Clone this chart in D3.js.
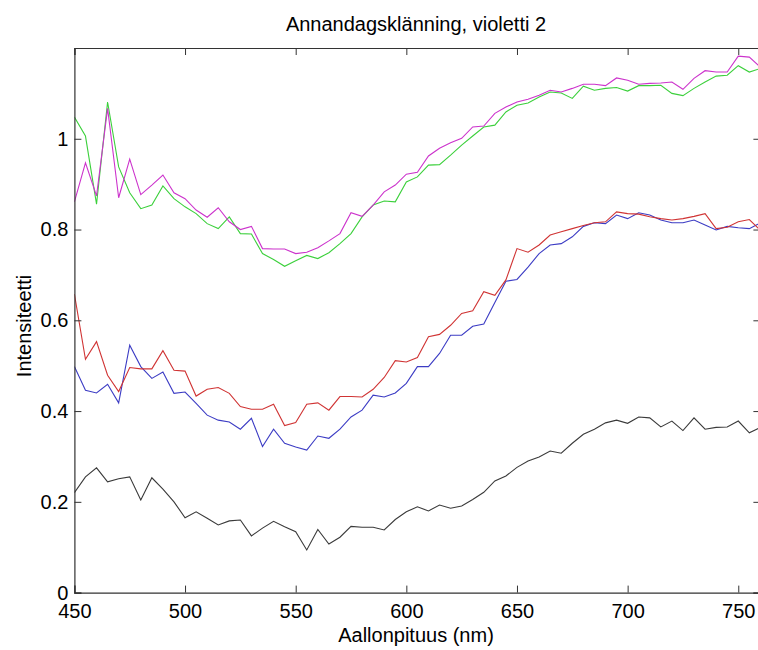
<!DOCTYPE html>
<html>
<head>
<meta charset="utf-8">
<script src="https://cdn.jsdelivr.net/npm/d3@7"></script>
<style>
  html, body { margin: 0; padding: 0; background: #fff; }
  svg { display: block; }
  text { font-family: "Liberation Sans", Arial, sans-serif; fill: #000; }
</style>
</head>
<body>
<svg id="chart" width="758" height="650"></svg>
<script>
const wavelengths = [450,455,460,465,470,475,480,485,490,495,500,505,510,515,520,525,530,535,540,545,
  550,555,560,565,570,575,580,585,590,595,600,605,610,615,620,625,630,635,640,645,650,655,
  660,665,670,675,680,685,690,695,700,705,710,715,720,725,730,735,740,745,750,755,760];

const blackSeries = [0.220,0.255,0.275,0.244,0.251,0.255,0.204,0.253,0.228,0.200,0.165,0.178,0.164,0.149,0.158,0.160,0.125,0.142,0.157,0.145,
  0.134,0.094,0.139,0.107,0.122,0.146,0.144,0.144,0.138,0.161,0.178,0.189,0.180,0.193,0.186,0.191,0.205,0.221,0.246,0.257,0.276,0.290,
  0.299,0.312,0.307,0.329,0.349,0.360,0.374,0.380,0.373,0.387,0.385,0.365,0.378,0.357,0.385,0.360,0.364,0.365,0.378,0.352,0.364];

const blueSeries = [0.498,0.446,0.440,0.459,0.418,0.545,0.498,0.472,0.486,0.439,0.442,0.417,0.391,0.380,0.376,0.360,0.384,0.322,0.360,0.329,
  0.321,0.314,0.345,0.340,0.360,0.387,0.402,0.435,0.431,0.440,0.461,0.498,0.498,0.527,0.567,0.567,0.587,0.592,0.639,0.686,0.690,0.717,
  0.747,0.766,0.769,0.784,0.807,0.815,0.813,0.832,0.824,0.837,0.832,0.821,0.815,0.815,0.821,0.810,0.799,0.807,0.804,0.802,0.815];

const redSeries = [0.658,0.514,0.553,0.479,0.443,0.496,0.493,0.493,0.533,0.490,0.488,0.433,0.448,0.452,0.439,0.410,0.404,0.404,0.415,0.368,
  0.375,0.415,0.418,0.402,0.432,0.432,0.431,0.448,0.474,0.511,0.508,0.518,0.564,0.569,0.589,0.615,0.621,0.663,0.655,0.689,0.758,0.750,
  0.766,0.788,0.795,0.802,0.809,0.815,0.817,0.839,0.835,0.834,0.828,0.824,0.821,0.824,0.829,0.835,0.802,0.805,0.817,0.822,0.798];

const greenSeries = [1.048,1.006,0.856,1.081,0.938,0.881,0.846,0.854,0.896,0.868,0.850,0.835,0.813,0.802,0.828,0.791,0.790,0.747,0.734,0.719,
  0.731,0.743,0.736,0.749,0.769,0.791,0.828,0.854,0.863,0.861,0.905,0.916,0.942,0.943,0.964,0.986,1.006,1.026,1.030,1.059,1.074,1.079,
  1.092,1.103,1.101,1.089,1.116,1.107,1.111,1.113,1.105,1.117,1.117,1.118,1.100,1.095,1.111,1.125,1.138,1.140,1.161,1.147,1.155];

const magentaSeries = [0.861,0.947,0.874,1.067,0.870,0.955,0.877,0.898,0.920,0.881,0.868,0.843,0.827,0.848,0.817,0.800,0.807,0.758,0.757,0.757,
  0.747,0.750,0.760,0.775,0.791,0.837,0.829,0.854,0.883,0.898,0.922,0.926,0.962,0.979,0.991,1.001,1.026,1.028,1.056,1.070,1.081,1.087,
  1.096,1.107,1.103,1.111,1.120,1.120,1.117,1.134,1.129,1.120,1.122,1.123,1.125,1.109,1.133,1.150,1.147,1.147,1.182,1.180,1.158];

const xTicks = [450,500,550,600,650,700,750];
const yTicks = [0,0.2,0.4,0.6,0.8,1];

const titleText = "Annandagsklänning, violetti 2";
const xLabel = "Aallonpituus (nm)";
const yLabel = "Intensiteetti";

const seriesList = [
  {name: "black", values: blackSeries, color: "#3a3a3a"},
  {name: "blue", values: blueSeries, color: "#3c3cc4"},
  {name: "red", values: redSeries, color: "#d03434"},
  {name: "green", values: greenSeries, color: "#3cd03c"},
  {name: "magenta", values: magentaSeries, color: "#cc33cc"}
];

const L = 74.4, R = 760.4, T = 48, B = 592.6;
const svg = d3.select("#chart");
const x = d3.scaleLinear().domain([450, 760]).range([L, R]);
const y = d3.scaleLinear().domain([0, 1.2]).range([B, T]);
const axisColor = "#333";
const tickLen = 7;

// lines
const clip = svg.append("clipPath").attr("id", "clip")
  .append("rect").attr("x", L).attr("y", T).attr("width", R - L).attr("height", B - T);

const lineGen = d3.line().x((d, i) => x(wavelengths[i])).y(d => y(d));
const lines = svg.append("g").attr("clip-path", "url(#clip)");
seriesList.forEach(s => {
  lines.append("path")
    .datum(s.values)
    .attr("d", lineGen)
    .attr("fill", "none")
    .attr("stroke", s.color)
    .attr("stroke-width", 1.1)
    .attr("stroke-linejoin", "miter");
});

// axes (MATLAB style: inward ticks on all four sides)
const xAxisB = d3.axisBottom(x).tickValues(xTicks).tickSize(-tickLen).tickPadding(11).tickFormat(d3.format("d"));
const xAxisT = d3.axisTop(x).tickValues(xTicks).tickSize(-tickLen).tickFormat("");
const yAxisL = d3.axisLeft(y).tickValues(yTicks).tickSize(-tickLen).tickPadding(6).tickFormat(d => d === 0 ? "0" : d === 1 ? "1" : d3.format(".1f")(d));
const yAxisR = d3.axisRight(y).tickValues(yTicks).tickSize(-tickLen).tickFormat("");

function style(g) {
  g.select(".domain").attr("stroke", axisColor).attr("stroke-width", 1.2);
  g.selectAll(".tick line").attr("stroke", axisColor).attr("stroke-width", 1);
  g.selectAll(".tick text").attr("font-size", 20).attr("fill", "#000")
    .attr("font-family", '"Liberation Sans", Arial, sans-serif');
}

svg.append("g").attr("transform", `translate(0,${B})`).call(xAxisB).call(style);
svg.append("g").attr("transform", `translate(0,${T})`).call(xAxisT).call(style);
svg.append("g").attr("transform", `translate(${L},0)`).call(yAxisL).call(style);
svg.append("g").attr("transform", `translate(${R},0)`).call(yAxisR).call(style);

// title and labels
svg.append("text").attr("x", 416).attr("y", 31).attr("text-anchor", "middle")
  .attr("font-size", 20).text(titleText);
svg.append("text").attr("x", 416).attr("y", 642).attr("text-anchor", "middle")
  .attr("font-size", 20).text(xLabel);
svg.append("text").attr("transform", "translate(31,326) rotate(-90)").attr("text-anchor", "middle")
  .attr("font-size", 20).text(yLabel);
</script>
</body>
</html>
